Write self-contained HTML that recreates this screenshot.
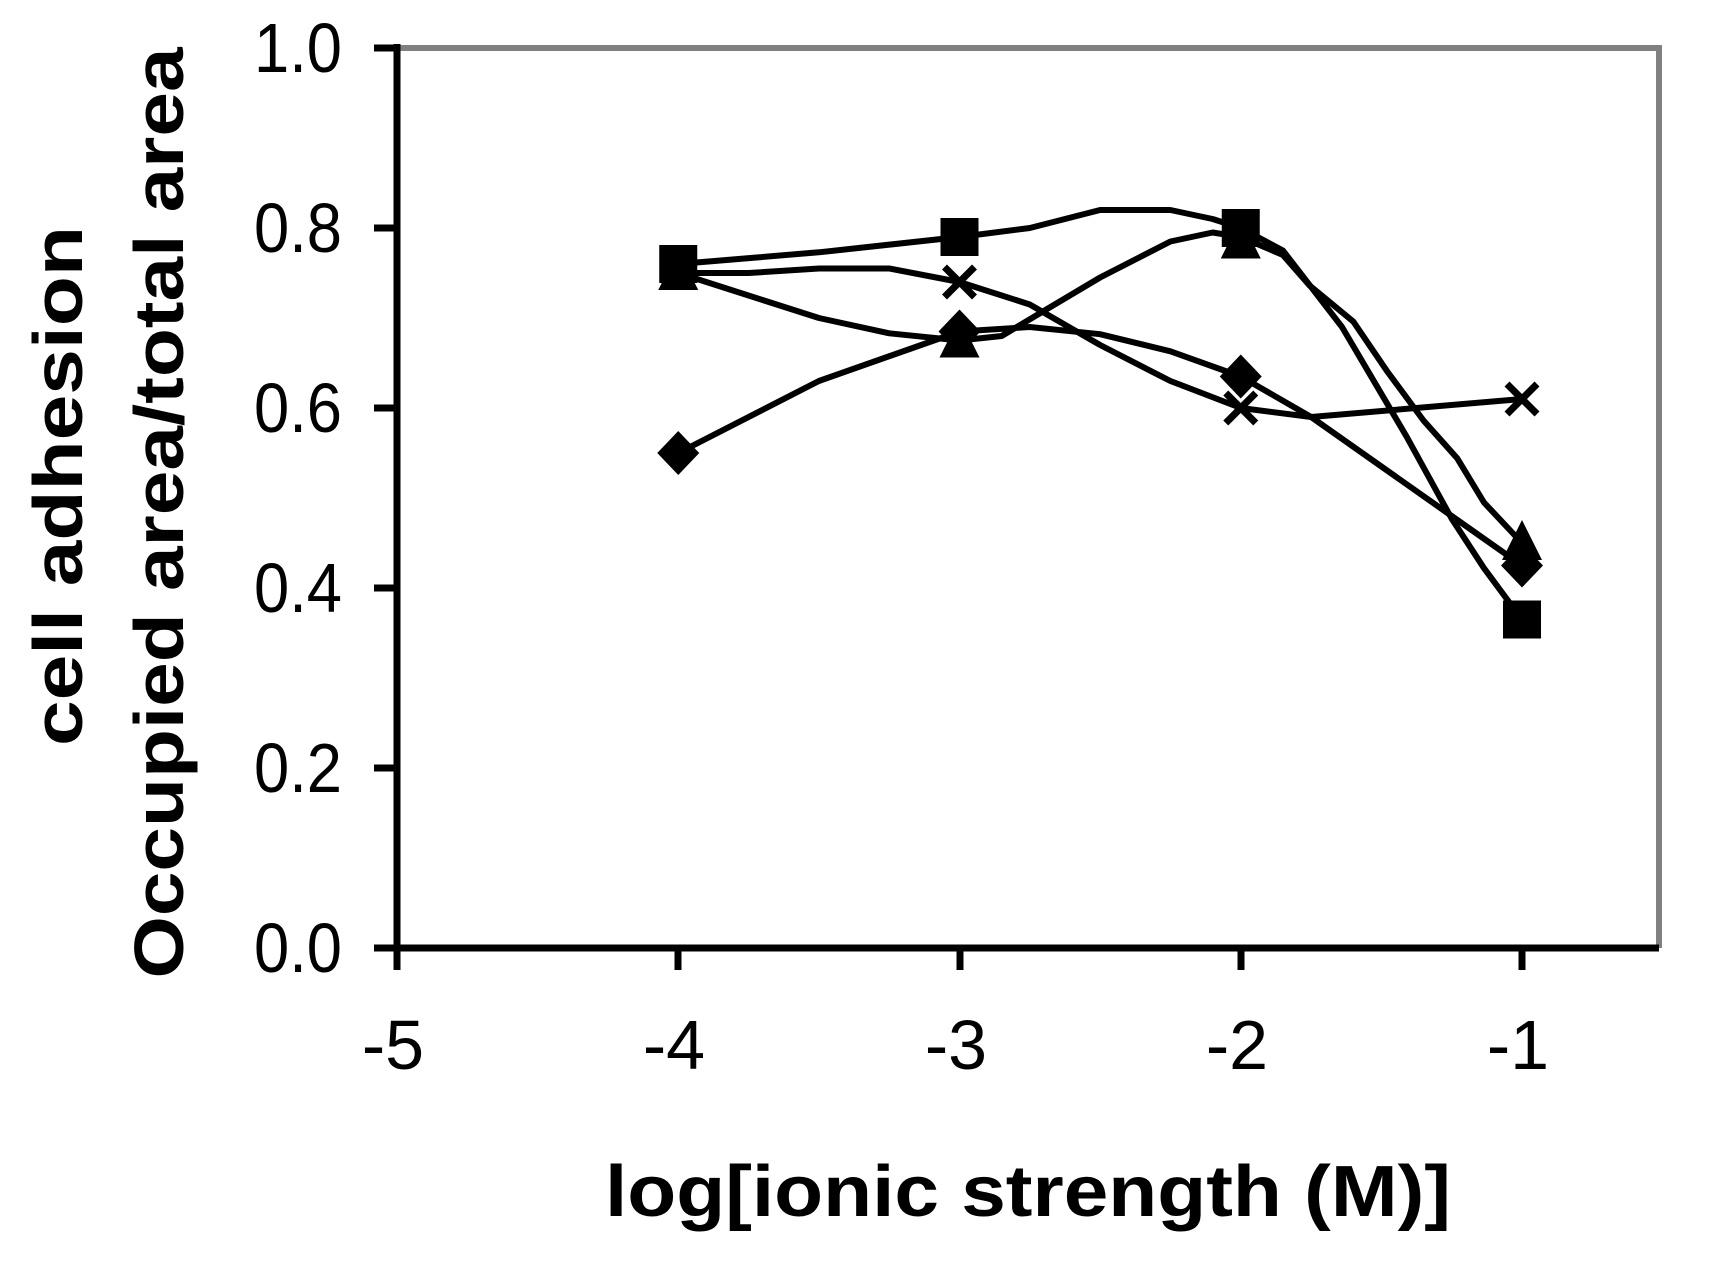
<!DOCTYPE html>
<html><head><style>html,body{margin:0;padding:0;background:#fff}svg{display:block}</style></head>
<body>
<svg id="s" width="1713" height="1265" viewBox="0 0 1713 1265" xmlns="http://www.w3.org/2000/svg" font-family="Liberation Sans, Arial, sans-serif">
<rect width="1713" height="1265" fill="#fff"/>
<polyline points="397,48 1659,48 1659,948" fill="none" stroke="#808080" stroke-width="6"/>
<line x1="397" y1="44" x2="397" y2="952" stroke="#000" stroke-width="7"/>
<line x1="374" y1="948" x2="1659" y2="948" stroke="#000" stroke-width="7"/>
<g stroke="#000" stroke-width="7">
<line x1="374" y1="48" x2="397" y2="48"/><line x1="374" y1="228" x2="397" y2="228"/><line x1="374" y1="408" x2="397" y2="408"/><line x1="374" y1="588" x2="397" y2="588"/><line x1="374" y1="768" x2="397" y2="768"/>
<line x1="397" y1="948" x2="397" y2="970"/><line x1="678" y1="948" x2="678" y2="970"/><line x1="960" y1="948" x2="960" y2="970"/><line x1="1241" y1="948" x2="1241" y2="970"/><line x1="1522" y1="948" x2="1522" y2="970"/>
</g>
<g font-size="70" text-anchor="end">
<text x="342" y="72" textLength="88" lengthAdjust="spacingAndGlyphs">1.0</text><text x="342" y="252" textLength="88" lengthAdjust="spacingAndGlyphs">0.8</text><text x="342" y="432" textLength="88" lengthAdjust="spacingAndGlyphs">0.6</text><text x="342" y="612" textLength="88" lengthAdjust="spacingAndGlyphs">0.4</text><text x="342" y="792" textLength="88" lengthAdjust="spacingAndGlyphs">0.2</text><text x="342" y="972" textLength="88" lengthAdjust="spacingAndGlyphs">0.0</text>
</g>
<g font-size="70" text-anchor="middle">
<text x="393" y="1069">-5</text><text x="674" y="1069">-4</text><text x="956" y="1069">-3</text><text x="1237" y="1069">-2</text><text x="1518" y="1069">-1</text>
</g>
<text x="1028" y="1216" font-size="72" font-weight="bold" text-anchor="middle" textLength="846" lengthAdjust="spacingAndGlyphs">log[ionic strength (M)]</text>
<text transform="translate(82,486) rotate(-90)" font-size="70" font-weight="bold" text-anchor="middle" textLength="520" lengthAdjust="spacingAndGlyphs">cell adhesion</text>
<text transform="translate(183,513) rotate(-90)" font-size="70" font-weight="bold" text-anchor="middle" textLength="931" lengthAdjust="spacingAndGlyphs">Occupied area/total area</text>
<g id="g" fill="none" stroke="#000" stroke-width="6" stroke-linejoin="round"></g>
<g id="m"></g>
</svg>
<script>
function X(x){return 397+(x+5)*281.25}
function Y(v){return 948-v*900}
var curves=[
[[-4,.76],[-3.5,.773],[-3,.79],[-2.75,.80],[-2.5,.82],[-2.25,.82],[-2.1,.81],[-2,.80],[-1.85,.775],[-1.64,.69],[-1.41,.568],[-1.25,.477],[-1.135,.422],[-1,.365]],
[[-4,.75],[-3.7,.72],[-3.5,.70],[-3.25,.683],[-3,.675],[-2.85,.68],[-2.5,.745],[-2.25,.785],[-2.1,.795],[-2,.79],[-1.85,.77],[-1.755,.736],[-1.6,.696],[-1.48,.641],[-1.35,.586],[-1.23,.544],[-1.135,.495],[-1,.45]],
[[-4,.55],[-3.5,.63],[-3,.685],[-2.75,.69],[-2.5,.682],[-2.25,.663],[-2,.635],[-1.75,.59],[-1.5,.535],[-1.25,.48],[-1,.425]],
[[-4,.75],[-3.75,.75],[-3.5,.755],[-3.25,.755],[-3,.74],[-2.75,.715],[-2.5,.67],[-2.25,.63],[-2,.60],[-1.75,.59],[-1,.61]]];
var ns="http://www.w3.org/2000/svg",g=document.getElementById('g'),m=document.getElementById('m');
curves.forEach(function(c){var p=document.createElementNS(ns,'polyline');p.setAttribute('points',c.map(function(q){return X(q[0]).toFixed(1)+','+Y(q[1]).toFixed(1)}).join(' '));g.appendChild(p);});
var h='';
[[-4,.55],[-3,.685],[-2,.635],[-1,.425]].forEach(function(q){var x=X(q[0]),y=Y(q[1]);h+='<polygon points="'+x+','+(y-22)+' '+(x+21)+','+y+' '+x+','+(y+22)+' '+(x-21)+','+y+'" fill="#000"/>';});
[[-4,.75],[-3,.675],[-2,.785],[-1,.45]].forEach(function(q){var x=X(q[0]),y=Y(q[1]);h+='<polygon points="'+x+','+(y-23)+' '+(x+20)+','+(y+17)+' '+(x-20)+','+(y+17)+'" fill="#000"/>';});
[[-4,.76],[-3,.79],[-2,.80],[-1,.365]].forEach(function(q){var x=X(q[0]),y=Y(q[1]);h+='<rect x="'+(x-19)+'" y="'+(y-19)+'" width="38" height="38" fill="#000"/>';});
[[-3,.74],[-2,.60],[-1,.61]].forEach(function(q){var x=X(q[0]),y=Y(q[1]);h+='<path d="M'+(x-15)+','+(y-15)+'L'+(x+15)+','+(y+15)+'M'+(x+15)+','+(y-15)+'L'+(x-15)+','+(y+15)+'" stroke="#000" stroke-width="7"/>';});
m.innerHTML=h;
</script>
</body></html>
